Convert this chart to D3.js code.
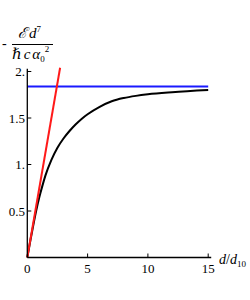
<!DOCTYPE html>
<meta charset="utf-8">

<style>
  body { margin: 0; background: white; }
</style>

<script src="https://d3js.org/d3.v7.min.js"></script>

<div id="body"></div>

<script>

  // data
  var curveD = [0, 0.25, 0.5, 0.75, 1, 1.25, 1.5, 2, 2.5, 3, 3.5, 4, 4.5, 5, 6, 7, 8, 9, 10, 12, 15]
  var curveV = [0, 0.18, 0.35, 0.51, 0.65, 0.77, 0.88, 1.05, 1.18, 1.28, 1.36, 1.43, 1.49, 1.54, 1.62, 1.68, 1.715, 1.738, 1.755, 1.777, 1.80]
  var tangentD = [0, 2.72]
  var tangentV = [0, 2.04]
  var limitD = [0, 15]
  var limitV = [1.84, 1.84]
  var xTicks = [5, 10, 15]
  var xTickLabels = ["0", "5", "10", "15"]
  var yTicks = [0.5, 1, 1.5, 2]
  var yTickLabels = ["0.5", "1.", "1.5", "2."]

  var width = 250, height = 300
  var serif = "'Liberation Serif', 'Times New Roman', Times, 'DejaVu Serif', serif"

  var svg = d3.select("#body")
    .append("svg")
    .attr("width", width)
    .attr("height", height)
    .style("font-family", serif)

  var x = d3.scaleLinear().domain([0, 15]).range([27.3, 208.2])
  var y = d3.scaleLinear().domain([0, 2]).range([257.5, 71.5])

  function zip(a, b) { return a.map(function (d, i) { return [d, b[i]] }) }

  var line = d3.line()
    .x(function (d) { return x(d[0]) })
    .y(function (d) { return y(d[1]) })

  // curves
  svg.append("path")
    .datum(zip(limitD, limitV))
    .attr("d", line)
    .attr("stroke", "#1a1aff")
    .attr("stroke-width", 2)
    .attr("fill", "none")

  svg.append("path")
    .datum(zip(curveD, curveV))
    .attr("d", line.curve(d3.curveMonotoneX))
    .attr("stroke", "black")
    .attr("stroke-width", 2)
    .attr("fill", "none")

  line.curve(d3.curveLinear)

  svg.append("path")
    .datum(zip(tangentD, tangentV))
    .attr("d", line)
    .attr("stroke", "#ff1a1a")
    .attr("stroke-width", 2)
    .attr("fill", "none")

  // x axis
  svg.append("line")
    .attr("x1", x(0)).attr("x2", x(15.25))
    .attr("y1", y(0)).attr("y2", y(0))
    .attr("stroke", "black").attr("stroke-width", 1.3)

  svg.selectAll(".xtick")
    .data(xTicks)
    .enter()
    .append("line")
    .attr("x1", function (d) { return x(d) }).attr("x2", function (d) { return x(d) })
    .attr("y1", y(0)).attr("y2", y(0) - 4)
    .attr("stroke", "black").attr("stroke-width", 1)

  svg.selectAll(".xlab")
    .data(xTickLabels)
    .enter()
    .append("text")
    .attr("x", function (d) { return x(+d) })
    .attr("y", 273)
    .attr("text-anchor", "middle")
    .style("font-family", serif)
    .style("font-size", "13px")
    .text(function (d) { return d })

  // y axis
  svg.append("line")
    .attr("x1", x(0)).attr("x2", x(0))
    .attr("y1", y(0)).attr("y2", y(2.03))
    .attr("stroke", "black").attr("stroke-width", 1.3)

  svg.selectAll(".ytick")
    .data(yTicks)
    .enter()
    .append("line")
    .attr("x1", x(0)).attr("x2", x(0) + 4)
    .attr("y1", function (d) { return y(d) }).attr("y2", function (d) { return y(d) })
    .attr("stroke", "black").attr("stroke-width", 1)

  svg.selectAll(".ylab")
    .data(yTickLabels)
    .enter()
    .append("text")
    .attr("x", 25)
    .attr("y", function (d) { return y(+d) + 4.5 })
    .attr("text-anchor", "end")
    .style("font-family", serif)
    .style("font-size", "13px")
    .text(function (d) { return d })

  // x axis label
  var xl = svg.append("text")
    .attr("x", 219)
    .attr("y", 264)
    .style("font-family", serif)
    .style("font-size", "14px")
  xl.append("tspan").style("font-style", "italic").text("d")
  xl.append("tspan").text("/")
  xl.append("tspan").style("font-style", "italic").text("d")
  xl.append("tspan").attr("dy", 3).style("font-size", "9px").text("10")

  // y axis label (fraction)
  svg.append("text")
    .attr("x", 2)
    .attr("y", 48)
    .style("font-family", serif)
    .style("font-size", "14px")
    .text("-")

  svg.append("line")
    .attr("x1", 12).attr("x2", 53)
    .attr("y1", 44.5).attr("y2", 44.5)
    .attr("stroke", "black").attr("stroke-width", 1)

  var num = svg.append("text")
    .attr("x", 18)
    .attr("y", 38)
    .style("font-family", serif)
    .style("font-size", "15px")
  num.append("tspan").style("font-style", "italic").text("ℰ")
  num.append("tspan").style("font-style", "italic").attr("dx", 2).text("d")
  num.append("tspan").attr("dy", -6).style("font-size", "9px").text("7")

  var den = svg.append("text")
    .attr("x", 12)
    .attr("y", 59)
    .style("font-family", serif)
    .style("font-size", "15px")
  den.append("tspan").style("font-style", "italic").text("ℏ")
  den.append("tspan").style("font-style", "italic").attr("dx", 2).text("c")
  den.append("tspan").style("font-style", "italic").attr("dx", 2).text("α")
  den.append("tspan").attr("dy", 3).style("font-size", "9px").text("0")
  den.append("tspan").attr("dy", -10).style("font-size", "9px").text("2")

</script>
